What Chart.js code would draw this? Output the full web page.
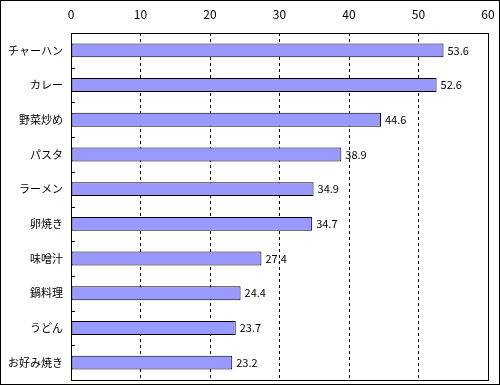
<!DOCTYPE html>
<html>
<head>
<meta charset="utf-8">
<script src="https://cdn.jsdelivr.net/npm/chart.js@4"></script>
<style>
  html, body { margin: 0; padding: 0; background: #fff; }
  #wrap { width: 500px; height: 385px; }
</style>
</head>
<body>
<div id="wrap"><canvas id="chart" width="500" height="385"></canvas></div>
<script>
const labels = ["チャーハン", "カレー", "野菜炒め", "パスタ", "ラーメン", "卵焼き", "味噌汁", "鍋料理", "うどん", "お好み焼き"];
const values = [53.6, 52.6, 44.6, 38.9, 34.9, 34.7, 27.4, 24.4, 23.7, 23.2];
const xTicks = [0, 10, 20, 30, 40, 50, 60];

const FONT = "'Noto Sans CJK JP', 'Noto Sans', sans-serif";

// 外枠・プロット枠・目盛・値ラベル
const decor = {
  id: "decor",
  afterDraw(chart) {
    const ctx = chart.ctx;
    const a = chart.chartArea;
    const y = chart.scales.y;
    ctx.save();
    ctx.strokeStyle = "#000";
    ctx.lineWidth = 1;
    ctx.strokeRect(0.5, 0.5, chart.width - 1, chart.height - 1);
    ctx.strokeRect(Math.round(a.left) + 0.5, Math.round(a.top) + 0.5,
      Math.round(a.right - a.left), Math.round(a.bottom - a.top));

    // カテゴリ境界の短い目盛
    ctx.beginPath();
    for (let i = 1; i < labels.length; i++) {
      const py = Math.round((y.getPixelForValue(i - 1) + y.getPixelForValue(i)) / 2) + 0.5;
      ctx.moveTo(a.left, py);
      ctx.lineTo(a.left + 4, py);
    }
    ctx.stroke();

    // 値ラベル
    ctx.fillStyle = "#000";
    ctx.font = "11px " + FONT;
    ctx.textAlign = "left";
    ctx.textBaseline = "middle";
    chart.getDatasetMeta(0).data.forEach((bar, i) => {
      ctx.fillText(values[i].toFixed(1), bar.x + 4, bar.y);
    });
    ctx.restore();
  }
};

new Chart(document.getElementById("chart"), {
  type: "bar",
  data: {
    labels: labels,
    datasets: [{
      data: values,
      backgroundColor: "#9999ff",
      borderColor: "#000",
      borderWidth: 1,
      borderSkipped: false,
      categoryPercentage: 1,
      barPercentage: 0.4
    }]
  },
  options: {
    indexAxis: "y",
    responsive: false,
    animation: false,
    layout: { padding: { left: 0, right: 12, top: 0, bottom: 5 } },
    plugins: { legend: { display: false }, tooltip: { enabled: false } },
    scales: {
      x: {
        position: "top",
        min: 0,
        max: 60,
        afterBuildTicks(s) { s.ticks = xTicks.map(v => ({ value: v })); },
        afterFit(s) { s.height = 33; s.paddingLeft = 0; s.paddingRight = 0; },
        grid: { color: "#000", drawTicks: false, tickBorderDash: [3, 3] },
        border: { display: false, dash: [3, 3] },
        ticks: { color: "#000", font: { family: FONT, size: 12 }, padding: 11, maxRotation: 0 }
      },
      y: {
        afterFit(s) { s.width = 71; s.paddingTop = 0; s.paddingBottom = 0; },
        grid: { display: false, drawTicks: false },
        border: { display: false },
        ticks: { color: "#000", font: { family: FONT, size: 11 }, padding: 8 }
      }
    }
  },
  plugins: [decor]
});
</script>
</body>
</html>
